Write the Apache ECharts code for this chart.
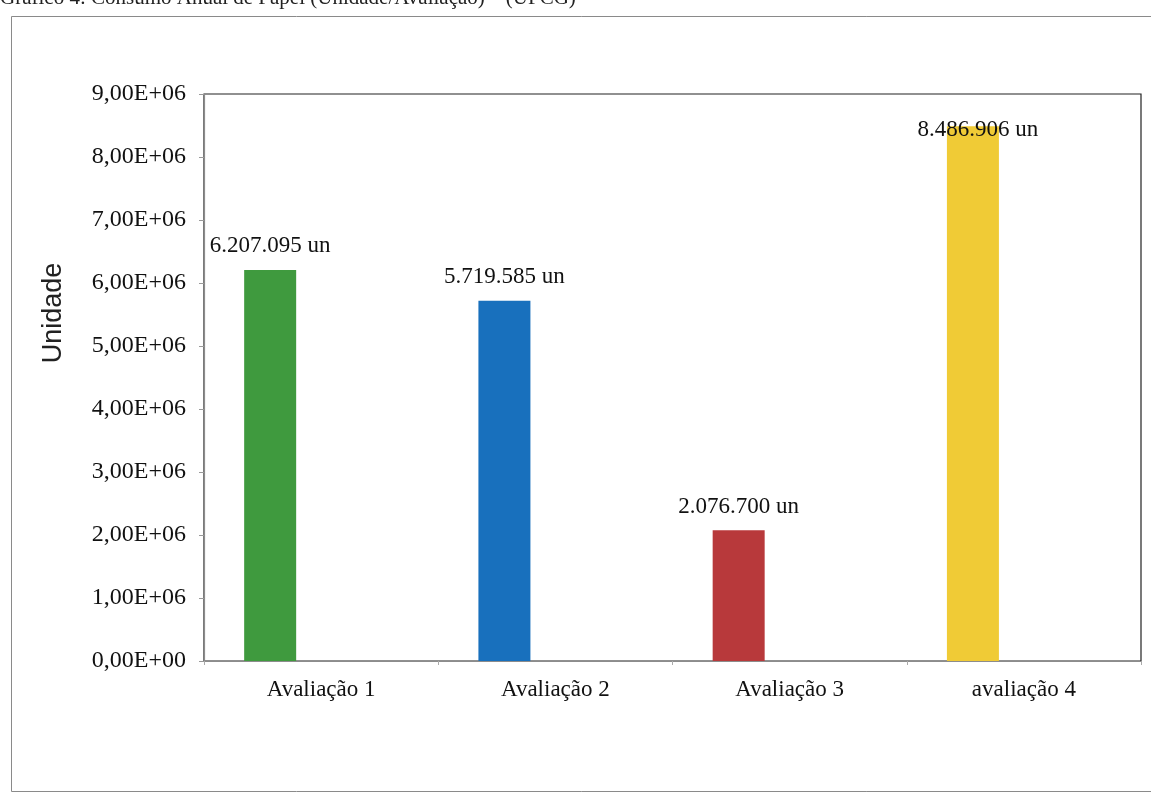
<!DOCTYPE html>
<html>
<head>
<meta charset="utf-8">
<script src="https://cdn.jsdelivr.net/npm/echarts@6/dist/echarts.min.js"></script>
<style>
html,body{margin:0;padding:0;background:#fff;}
#chart{width:1151px;height:792px;}
</style>
</head>
<body>
<div id="chart"></div>
<script>
var categories = ['Avaliação 1', 'Avaliação 2', 'Avaliação 3', 'avaliação 4'];
var values = [6207095, 5719585, 2076700, 8486906];
var spacer = [null, null, null, null];
var yTickLabels = ['0,00E+00','1,00E+06','2,00E+06','3,00E+06','4,00E+06','5,00E+06','6,00E+06','7,00E+06','8,00E+06','9,00E+06'];
var barColors = ['#3f9a3e', '#1870bd', '#b8393b', '#f0cb36'];
var titleText = 'Gráfico 4: Consumo Anual de Papel (Unidade/Avaliação) – (UFCG)';
var yAxisName = 'Unidade';

function fmt(v) {
  return String(v).replace(/\B(?=(\d{3})+(?!\d))/g, '.') + ' un';
}

var chart = echarts.init(document.getElementById('chart'));
var serif = 'Liberation Serif';

var barData = values.map(function (v, i) {
  var d = { value: v, itemStyle: { color: barColors[i] } };
  if (i === 3) d.label = { offset: [5, 27] };
  return d;
});

chart.setOption({
  animation: false,
  backgroundColor: '#fff',
  graphic: [
    { type: 'rect', left: 9, top: 14, shape: { width: 1160, height: 775 },
      style: { fill: 'none', stroke: '#8a8a8a', lineWidth: 1 } },
    { type: 'text', left: 0, top: -12,
      style: { text: titleText, font: '21px "Liberation Serif"', fill: '#222' } },
    { type: 'text', x: 54, y: 313, rotation: Math.PI / 2,
      style: { text: yAxisName, font: '27px "Liberation Sans"', fill: '#222', align: 'center', verticalAlign: 'middle' } }
  ],
  grid: { left: 204, right: 10, top: 94, bottom: 131, show: true, borderColor: '#222', borderWidth: 1.2, backgroundColor: 'transparent' },
  xAxis: {
    type: 'category',
    data: categories,
    axisLine: { lineStyle: { color: '#8c8c8c', width: 1.2 } },
    axisTick: { show: true, length: 4, lineStyle: { color: '#aaa' } },
    axisLabel: { color: '#111', fontFamily: serif, fontSize: 23, margin: 17 }
  },
  yAxis: {
    type: 'value',
    min: 0, max: 9000000, interval: 1000000,
    axisLine: { show: true, lineStyle: { color: '#8c8c8c', width: 1.2 } },
    axisTick: { show: true, length: 5, lineStyle: { color: '#999' } },
    splitLine: { show: false },
    axisLabel: {
      color: '#111', fontFamily: serif, fontSize: 24, margin: 18,
      formatter: function (v) { return yTickLabels[Math.round(v / 1000000)]; }
    }
  },
  series: [
    {
      type: 'bar',
      name: 'Consumo',
      data: barData,
      barWidth: 52,
      barGap: '96%',
      label: {
        show: true, position: 'top', distance: 12,
        color: '#111', fontFamily: serif, fontSize: 23,
        formatter: function (p) { return fmt(p.value); }
      }
    },
    {
      type: 'bar',
      name: 'spacer',
      data: spacer,
      barWidth: 52
    }
  ]
});
</script>
</body>
</html>
